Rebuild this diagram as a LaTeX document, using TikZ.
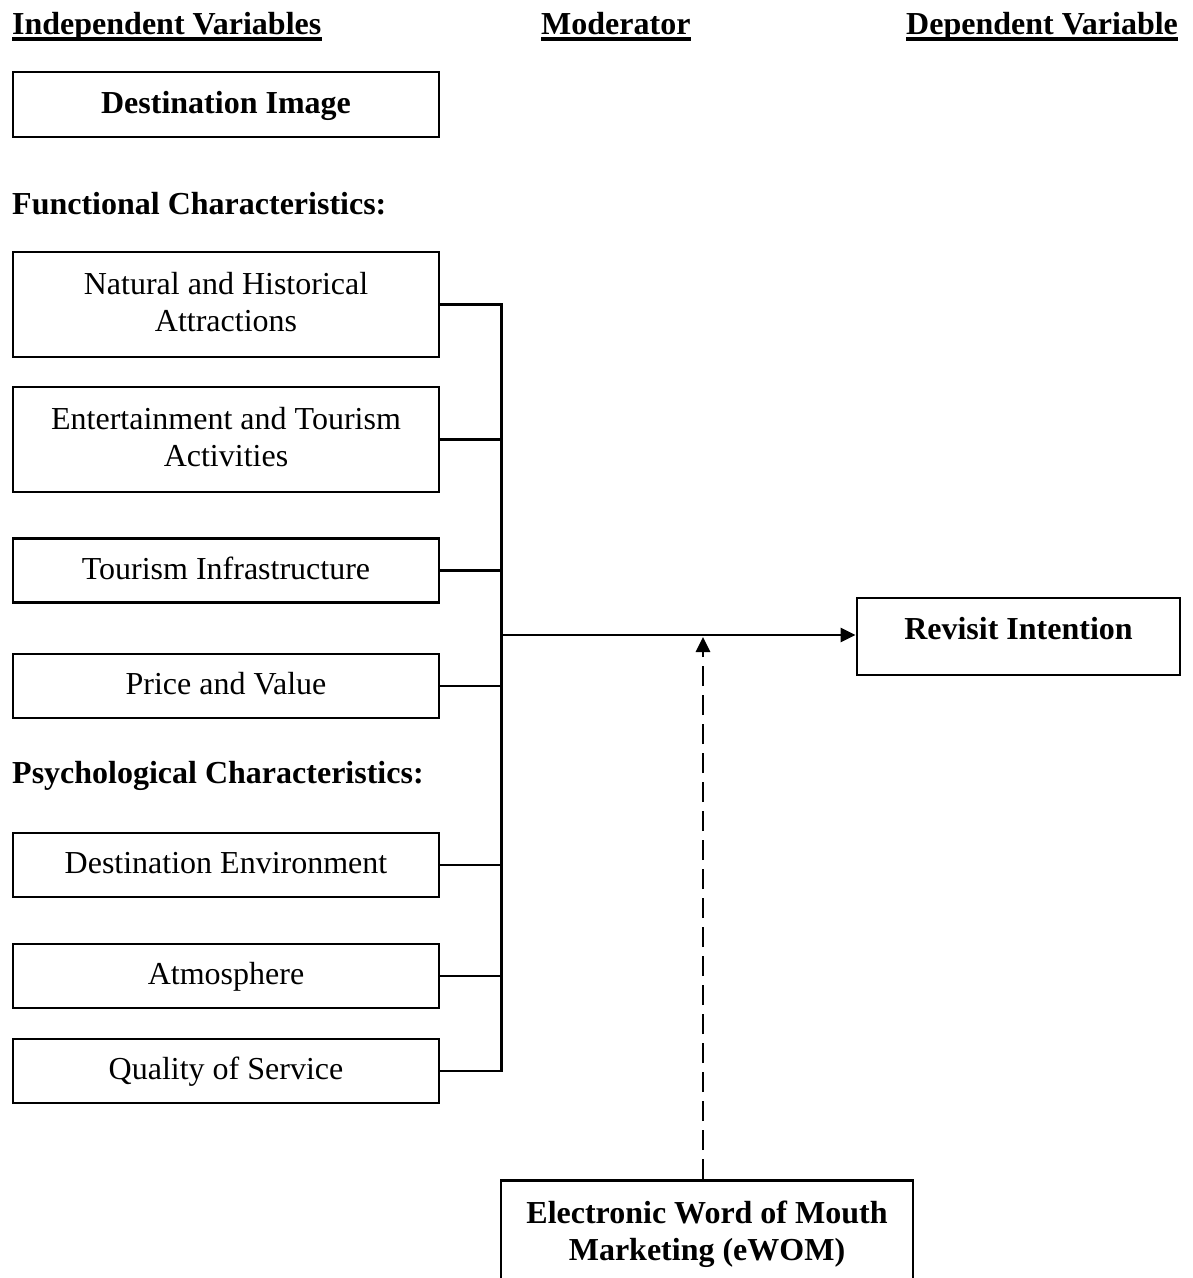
\documentclass[tikz,border=0pt]{standalone}
\usepackage{fontspec}
\setmainfont{Liberation Serif}
\usetikzlibrary{arrows.meta}
\begin{document}
\begin{tikzpicture}[x=1pt,y=-1pt,
  base/.style={font=\fontsize{32pt}{37pt}\selectfont},
  boldtxt/.style={font=\bfseries\fontsize{32pt}{37pt}\selectfont},
  hdr/.style={boldtxt, inner sep=0pt, anchor=base west},
  box/.style={base, draw, line width=2.8pt, minimum width=426pt, inner sep=0pt,
              text height=22pt, text depth=5pt, align=center},
  twoline/.style={text height=59pt, text depth=5pt},
  conn/.style={line width=2.8pt},
  tip/.style={-{Triangle[length=15pt,width=14pt]}},
  uline/.style={line width=3.5pt}
]
\useasboundingbox (0,0) rectangle (1193,1278);
\clip (0,0) rectangle (1193,1278);

% headers
\node[hdr] (h1) at (12,34) {Independent Variables};
\node[hdr] (h2) at (541,34) {Moderator};
\node[hdr] (h3) at (906,34) {Dependent Variable};
\foreach \h in {h1,h2,h3}
  \draw[uline] ([yshift=-5pt]\h.base west) -- ([yshift=-5pt]\h.base east);

% section labels
\node[hdr] (fc) at (12,214) {Functional Characteristics:};
\node[hdr] (pc) at (12,783) {Psychological Characteristics:};

% boxes
\node[box, boldtxt, minimum height=65pt] (di) at (226,104.5) {Destination Image};
\node[box, twoline, minimum height=105pt] (nat) at (226,304.5) {Natural and Historical\\Attractions};
\node[box, twoline, minimum height=105pt] (ent) at (226,439.5) {Entertainment and Tourism\\Activities};
\node[box, minimum height=64pt] (inf) at (226,570.5) {Tourism Infrastructure};
\node[box, minimum height=64pt] (pri) at (226,686) {Price and Value};
\node[box, minimum height=64pt] (env) at (226,865) {Destination Environment};
\node[box, minimum height=64pt] (atm) at (226,976) {Atmosphere};
\node[box, minimum height=64pt] (qos) at (226,1071) {Quality of Service};

\node[box, boldtxt, minimum width=323pt, minimum height=77pt, text depth=17pt]
  (rev) at (1018.5,636.5) {Revisit Intention};
\node[box, boldtxt, twoline, minimum width=412pt, minimum height=121pt, text depth=19pt, anchor=north]
  (ewom) at (707,1179) {Electronic Word of Mouth\\Marketing (eWOM)};

% connectors
\coordinate (jn) at (501.5,635);
\coordinate (mod) at (703,637);
\draw[conn] (nat.east) -| (jn) |- (qos.east);
\foreach \b in {ent,inf,pri,env,atm}
  \draw[conn] (\b.east) -- (\b.east -| jn);
\draw[conn, tip] (jn) -- (jn -| rev.west);
\draw[conn, tip, dash pattern=on 20pt off 9pt] (mod |- ewom.north) -- (mod);
\end{tikzpicture}
\end{document}
